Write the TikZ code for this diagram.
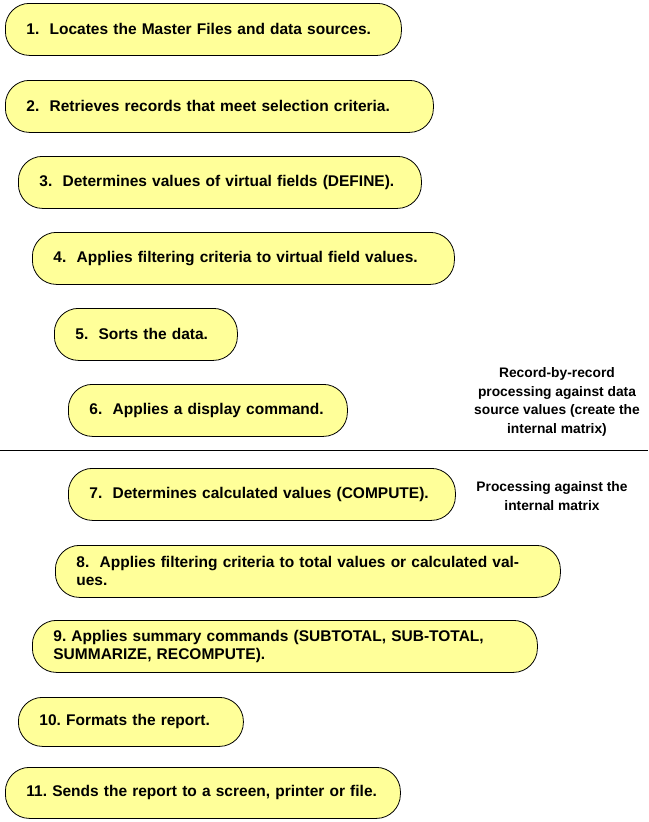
\documentclass[tikz,border=0pt]{standalone}
\usepackage{fontspec}
\setmainfont{Liberation Sans}
\usetikzlibrary{positioning}
\definecolor{stepyellow}{HTML}{FFFF99}
\tikzset{
    stepbox/.style={draw, thick, fill=stepyellow, rounded corners=24pt, anchor=north west,
                    align=left, inner xsep=21pt, inner ysep=0pt, minimum height=52pt,
                    font=\bfseries\fontsize{15.5}{18}\selectfont},
    note/.style={align=center, font=\bfseries\fontsize{13.8}{18.5}\selectfont},
}
\begin{document}
\begin{tikzpicture}[x=1pt, y=-1pt]
    \useasboundingbox (0,0) rectangle (648,822);

    % record-by-record steps
    \node[stepbox, text width=354pt] (s1) at (5,3) {1.\ \ Locates the Master Files and data sources.};
    \node[stepbox, text width=386pt] (s2) at (5,80) {2.\ \ Retrieves records that meet selection criteria.};
    \node[stepbox, text width=361pt] (s3) at (18,156) {3.\ \ Determines values of virtual fields (DEFINE).};
    \node[stepbox, text width=380pt] (s4) at (32,232) {4.\ \ Applies filtering criteria to virtual field values.};
    \node[stepbox, text width=141pt] (s5) at (54,308) {5.\ \ Sorts the data.};
    \node[stepbox, text width=237pt] (s6) at (68,384) {6.\ \ Applies a display command.};

    % separator
    \coordinate (sepL) at (0,450);
    \coordinate (sepR) at (648,450);
    \draw (sepL) -- (sepR);

    % matrix steps
    \node[stepbox, text width=345pt] (s7) at (68,468) {7.\ \ Determines calculated values (COMPUTE).};
    \node[stepbox, text width=463pt] (s8) at (55,545) {8.\ \ Applies filtering criteria to total values or calculated values.};
    \node[stepbox, text width=463pt] (s9) at (32,620) {9.\ Applies summary commands (SUBTOTAL, SUB-TOTAL,\\SUMMARIZE, RECOMPUTE).};
    \node[stepbox, text width=183pt, minimum height=49pt] (s10) at (18,697) {10.\ Formats the report.};
    \node[stepbox, text width=353pt, minimum height=51pt] (s11) at (5,767) {11.\ Sends the report to a screen, printer or file.};

    % notes
    \node[note] (rec) at (557,402) {Record-by-record\\processing against data\\source values (create the\\internal matrix)};
    \node[note] (mat) at (552,496) {Processing against the\\internal matrix};
\end{tikzpicture}
\end{document}
